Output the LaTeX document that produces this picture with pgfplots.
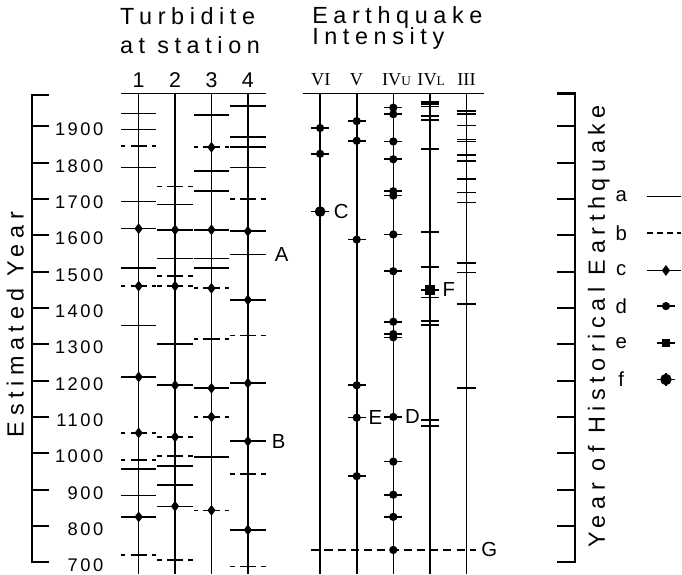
\documentclass[border=0pt]{standalone}
\usepackage{fontspec}
\setmainfont{Liberation Sans}
\newfontfamily\fwide{Liberation Sans}[LetterSpace=24]
\newfontfamily\fmed{Liberation Sans}[LetterSpace=14]
\newfontfamily\from{Liberation Serif}
\usepackage{pgfplots}
\usepackage{pgfplotstable}
\pgfplotsset{compat=1.18}

% turbidite events: station, estimated year
\pgfplotstableread{
s yr
1 1935
1 1891
1 1786
1 1693
1 1618
1 1510
1 1352
1 1210
1 956
1 884
1 825
2 1685
2 1615
2 1536
2 1301
2 1187
2 965
2 912
2 854
3 1930
3 1777
3 1721
3 1615
3 1536
3 1510
3 1179
3 989
4 1955
4 1870
4 1842
4 1786
4 1611
4 1547
4 1422
4 1193
4 1033
4 789
}\turbsolid
\pgfplotstableread{
s yr
1 1846
1 1460
1 1056
1 982
1 720
2 1734
2 1488
2 1460
2 1045
2 993
2 706
3 1842
3 1454
3 1315
3 1100
3 843
4 1699
4 1324
4 943
4 688
}\turbdashed
\pgfplotstableread{
s yr
1 1618
1 1460
1 1210
1 1056
1 825
2 1615
2 1460
2 1187
2 1045
2 854
3 1842
3 1615
3 1454
3 1179
3 1100
3 843
4 1611
4 1422
4 1193
4 1033
4 789
}\turbmarks
% earthquake intensity columns: 1=VI 2=V 3=IVu 4=IVl 5=III
\pgfplotstableread{
c yr
1 1895
1 1824
1 1665
2 1914
2 1860
2 1588
2 1187
2 1098
2 937
3 1951
3 1933
3 1858
3 1809
3 1721
3 1709
3 1602
3 1501
3 1362
3 1328
3 1319
3 1100
3 977
3 886
3 825
4 1967
4 1961
4 1954
4 1928
4 1917
4 1837
4 1609
4 1513
4 1450
4 1429
4 1364
4 1353
4 1092
4 1075
5 1942
5 1933
5 1902
5 1863
5 1858
5 1821
5 1805
5 1755
5 1718
5 1690
5 1524
5 1497
5 1410
5 1179
}\eqticks
\pgfplotstableread{
c yr
1 1895
1 1824
2 1914
2 1860
2 1588
2 1187
2 1098
2 937
3 1951
3 1933
3 1858
3 1809
3 1721
3 1709
3 1602
3 1501
3 1362
3 1328
3 1319
3 1100
3 977
3 886
3 825
3 734
}\eqdots
\pgfplotstableread{
y
800
900
1000
1100
1200
1300
1400
1500
1600
1700
1800
1900
}\yeartks

\newcommand\ttl{\fwide\fontsize{11.5}{13}\selectfont}
\newcommand\tck{\fmed\fontsize{9}{10}\selectfont}
\newcommand\lbl{\fontsize{10}{12}\selectfont}

\begin{document}
\begin{tikzpicture}
\begin{axis}[
  scale only axis, width=341pt, height=287pt,
  xmin=0, xmax=682, ymin=658, ymax=2263.6,
  axis lines=none, clip=false,
  cycle list={{black, solid, mark=none}},
  every axis plot/.append style={line width=0.8pt, black},
]
% --- left axis (Estimated Year)
\addplot[line width=1pt] coordinates {(60,1985) (43,1985) (43,700) (60,700)};
\addplot[draw=none, mark=none, error bars/.cd, x dir=both, x fixed=8.5, error mark=none,
  error bar style={draw=black, solid, line width=1pt}] table[x expr=51.5, y=y] {\yeartks};
\pgfplotsinvokeforeach{700,800,900,1000,1100,1200,1300,1400,1500,1600,1700,1800,1900}{
  \node[anchor=east, font=\tck, inner sep=0pt] at (axis cs:114,#1-9) {#1};
}
\node[rotate=90, font=\ttl] at (axis cs:27,1354) {Estimated Year};

% --- turbidite panel
\addplot[mark=none] coordinates {(131,1990) (274,1990)};
\addplot[mark=none] coordinates {(148.3,1990) (148.3,669)};
\addplot[mark=none] coordinates {(184.1,1990) (184.1,669)};
\addplot[mark=none] coordinates {(219.9,1990) (219.9,669)};
\addplot[mark=none] coordinates {(255.7,1990) (255.7,669)};
\addplot[draw=none, mark=none, error bars/.cd, x dir=both, x fixed=17.5, error mark=none,
  error bar style={draw=black, solid, line width=0.8pt}] table[x expr=112.5+35.8*\thisrow{s}, y=yr] {\turbsolid};
\addplot[draw=none, mark=none, error bars/.cd, x dir=both, x fixed=17.5, error mark=none,
  error bar style={draw=black, dash pattern=on 4pt off 2.5pt, line width=0.8pt}] table[x expr=112.5+35.8*\thisrow{s}, y=yr] {\turbdashed};
\addplot[only marks, mark=diamond*, mark size=2pt] table[x expr=112.5+35.8*\thisrow{s}, y=yr] {\turbmarks};
\node[anchor=base west, font=\ttl] at (axis cs:123,2180) {Turbidite};
\node[anchor=base west, font=\ttl] at (axis cs:123,2100) {at station};
\node[anchor=base, font=\fontsize{10.5}{12}\selectfont] at (axis cs:148.3,2006) {1};
\node[anchor=base, font=\fontsize{10.5}{12}\selectfont] at (axis cs:184.1,2006) {2};
\node[anchor=base, font=\fontsize{10.5}{12}\selectfont] at (axis cs:219.9,2006) {3};
\node[anchor=base, font=\fontsize{10.5}{12}\selectfont] at (axis cs:255.7,2006) {4};
\node[anchor=west, font=\lbl, inner sep=0pt] at (axis cs:282,1547) {A};
\node[anchor=west, font=\lbl, inner sep=0pt] at (axis cs:279,1033) {B};

% --- earthquake intensity panel
\addplot[mark=none] coordinates {(310,1990) (488,1990)};
\addplot[mark=none] coordinates {(326.8,1990) (326.8,669)};
\addplot[mark=none] coordinates {(362.8,1990) (362.8,669)};
\addplot[mark=none] coordinates {(398.8,1990) (398.8,669)};
\addplot[mark=none] coordinates {(434.8,1990) (434.8,669)};
\addplot[mark=none] coordinates {(470.8,1990) (470.8,669)};
\addplot[draw=none, mark=none, error bars/.cd, x dir=both, x fixed=9, error mark=none,
  error bar style={draw=black, solid, line width=0.8pt}] table[x expr=290.8+36*\thisrow{c}, y=yr] {\eqticks};
\addplot[only marks, mark=*, mark size=1.6pt] table[x expr=290.8+36*\thisrow{c}, y=yr] {\eqdots};
\addplot[only marks, mark=*, mark size=2.2pt] coordinates {(326.8,1665)};
\addplot[only marks, mark=square*, mark size=2.1pt] coordinates {(434.8,1450)};
\addplot[mark=none, dash pattern=on 4pt off 2.5pt] coordinates {(318,734) (480,734)};
\node[anchor=base west, font=\ttl] at (axis cs:312,2182) {Earthquake};
\node[anchor=base west, font=\ttl] at (axis cs:312,2124) {Intensity};
\node[anchor=base, font=\from\fontsize{9}{10}\selectfont] at (axis cs:327.5,2012) {VI};
\node[anchor=base, font=\from\fontsize{9}{10}\selectfont] at (axis cs:362.5,2012) {V};
\node[anchor=base, font=\from\fontsize{9}{10}\selectfont] at (axis cs:402,2012) {IV{\fontsize{6.5}{7}\selectfont U}};
\node[anchor=base, font=\from\fontsize{9}{10}\selectfont] at (axis cs:436,2012) {IV{\fontsize{6.5}{7}\selectfont L}};
\node[anchor=base, font=\from\fontsize{9}{10}\selectfont] at (axis cs:470.8,2012) {III};
\node[anchor=west, font=\lbl, inner sep=0pt] at (axis cs:340,1665) {C};
\node[anchor=west, font=\lbl, inner sep=0pt] at (axis cs:374,1098) {E};
\node[anchor=west, font=\lbl, inner sep=0pt] at (axis cs:410,1100) {D};
\node[anchor=west, font=\lbl, inner sep=0pt] at (axis cs:447,1450) {F};
\node[anchor=west, font=\lbl, inner sep=0pt] at (axis cs:485,734) {G};

% --- right axis (Year of Historical Earthquake)
\addplot[line width=1pt] coordinates {(560,1990) (578,1990) (578,700) (560,700)};
\addplot[draw=none, mark=none, error bars/.cd, x dir=both, x fixed=9, error mark=none,
  error bar style={draw=black, solid, line width=1pt}] table[x expr=569, y=y] {\yeartks};
\node[rotate=90, font=\ttl] at (axis cs:601,1350) {Year of Historical Earthquake};

% --- key
\addplot[mark=none] coordinates {(648,1707) (682,1707)};
\addplot[mark=none, dash pattern=on 3pt off 2pt] coordinates {(648,1606) (682,1606)};
\addplot[mark=diamond*, mark size=2pt, mark indices={2}] coordinates {(648,1503) (667,1503) (682,1503)};
\addplot[mark=*, mark size=1.6pt, mark indices={2}] coordinates {(658,1405) (667,1405) (676,1405)};
\addplot[mark=square*, mark size=1.6pt, mark indices={2}] coordinates {(658,1304) (667,1304) (676,1304)};
\addplot[mark=*, mark size=2.4pt, mark indices={2}] coordinates {(658,1203) (667,1203) (676,1203)};
\addplot[mark=+, mark size=3.2pt, mark indices={2}] coordinates {(658,1203) (667,1203) (676,1203)};
\node[font=\lbl] at (axis cs:623,1707) {a};
\node[font=\lbl] at (axis cs:623,1606) {b};
\node[font=\lbl] at (axis cs:623,1503) {c};
\node[font=\lbl] at (axis cs:623,1405) {d};
\node[font=\lbl] at (axis cs:623,1304) {e};
\node[font=\lbl] at (axis cs:623,1203) {f};
\end{axis}
\end{tikzpicture}
\end{document}
